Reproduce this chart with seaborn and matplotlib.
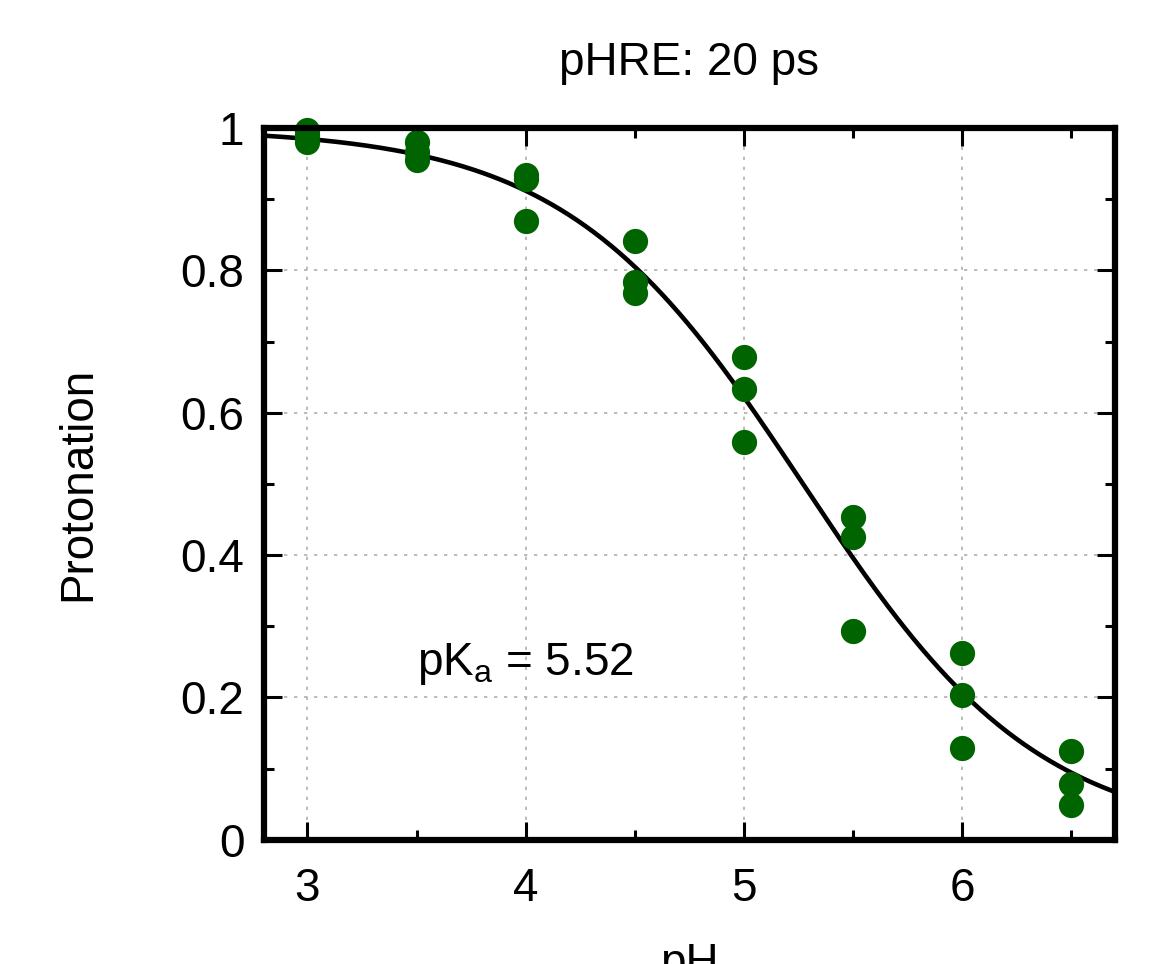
import numpy as np
import pandas as pd
import matplotlib
matplotlib.use("Agg")
import matplotlib.pyplot as plt
from matplotlib.ticker import MultipleLocator
import seaborn as sns

# DATA
ph = [3.0, 3.0, 3.0,
      3.5, 3.5, 3.5,
      4.0, 4.0, 4.0,
      4.5, 4.5, 4.5,
      5.0, 5.0, 5.0,
      5.5, 5.5, 5.5,
      6.0, 6.0, 6.0,
      6.5, 6.5, 6.5]
protonation = [0.997, 0.990, 0.981,
               0.980, 0.967, 0.955,
               0.934, 0.929, 0.870,
               0.842, 0.784, 0.768,
               0.678, 0.634, 0.559,
               0.453, 0.426, 0.293,
               0.262, 0.204, 0.129,
               0.125, 0.078, 0.049]

# fitted titration curve parameters (as drawn)
fit_pka = 5.27
fit_hill = 0.80
pka_label = "5.52"

x_ticks = [3, 4, 5, 6]
y_ticks = [0, 0.2, 0.4, 0.6, 0.8, 1.0]
y_tick_labels = ["0", "0.2", "0.4", "0.6", "0.8", "1"]

# STYLE
sns.set_style("ticks")
plt.rcParams['font.family'] = ['Liberation Sans', 'DejaVu Sans']
plt.rcParams['mathtext.fontset'] = 'custom'
plt.rcParams['mathtext.rm'] = 'Liberation Sans'
plt.rcParams['mathtext.it'] = 'Liberation Sans'
plt.rcParams['text.color'] = 'black'
plt.rcParams['axes.labelcolor'] = 'black'
plt.rcParams['xtick.color'] = 'black'
plt.rcParams['ytick.color'] = 'black'

df = pd.DataFrame({"pH": ph, "Protonation": protonation})

ph_fit = np.linspace(2.8, 6.7, 300)
curve = pd.DataFrame({"pH": ph_fit,
                      "Protonation": 1.0 / (1.0 + 10 ** (fit_hill * (ph_fit - fit_pka)))})

fig = plt.figure(figsize=(11.52, 9.64), dpi=100)
ax = fig.add_axes([0.229, 0.129, 0.739, 0.738])

# grid
for xv in x_ticks:
    ax.axvline(xv, color="#b0b0b0", lw=1.2, ls=(0, (2, 4)), zorder=0)
for yv in y_ticks[1:-1]:
    ax.axhline(yv, color="#b0b0b0", lw=1.2, ls=(0, (2, 4)), zorder=0)

sns.lineplot(data=curve, x="pH", y="Protonation", color="black",
             linewidth=3.3, ax=ax, zorder=2)
sns.scatterplot(data=df, x="pH", y="Protonation", color="#006400",
                s=330, linewidth=0, ax=ax, zorder=3, clip_on=False)

ax.set_xlim(2.8, 6.7)
ax.set_ylim(0, 1)

ax.set_xticks(x_ticks)
ax.set_xticklabels([str(v) for v in x_ticks])
ax.set_yticks(y_ticks)
ax.set_yticklabels(y_tick_labels)
ax.xaxis.set_minor_locator(MultipleLocator(0.5))
ax.yaxis.set_minor_locator(MultipleLocator(0.1))

ax.tick_params(which="major", direction="in", length=13, width=2.2,
               top=True, right=True, labelsize=33, pad=14)
ax.tick_params(axis="x", which="major", pad=20)
ax.tick_params(which="minor", direction="in", length=7, width=2.2,
               top=True, right=True)

for sp in ax.spines.values():
    sp.set_linewidth(4.5)
    sp.set_color("black")
    sp.set_zorder(4)

ax.set_title("pHRE: 20 ps", fontsize=33, pad=38)
ax.set_xlabel("pH", fontsize=33, labelpad=22)
ax.set_ylabel("Protonation", fontsize=33, labelpad=58)

ax.text(3.5, 0.232, r"pK$_{\mathrm{a}}$ = " + pka_label, fontsize=33,
        ha="left", va="baseline")

fig.savefig("out.png", dpi=100)
